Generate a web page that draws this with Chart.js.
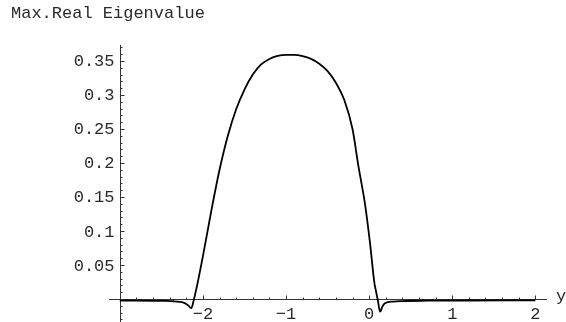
<!DOCTYPE html>
<html>
<head>
<meta charset="utf-8">
<script src="https://cdn.jsdelivr.net/npm/chart.js@4.4.0/dist/chart.umd.min.js"></script>
<style>
    body { margin: 0; background: #fff; }
    #wrap { position: relative; width: 566px; height: 322px; }
    #title {
        position: absolute; left: 11px; top: 4px;
        font: 17px "Liberation Mono", monospace; color: #2a2a2a; white-space: pre;
    }
</style>
</head>
<body>
<div id="wrap">
    <canvas id="chart1" width="566" height="322"></canvas>
    <div id="title">Max.Real Eigenvalue</div>
</div>
<script>
// data
var yValues = [-3, -2.8, -2.6, -2.45, -2.35, -2.28, -2.22, -2.18, -2.14, -2.11, -2.07, -2.0, -1.9, -1.8, -1.7, -1.6, -1.5, -1.4, -1.3, -1.2, -1.1, -1.0, -0.9, -0.8, -0.7, -0.6, -0.5, -0.4, -0.3, -0.2, -0.13, -0.05, 0.01, 0.064, 0.08, 0.104, 0.132, 0.16, 0.19, 0.29, 0.4, 0.7, 1.2, 2];
var maxRealEig = [-0.0025, -0.0025, -0.0026, -0.0028, -0.0033, -0.0042, -0.006, -0.009, -0.0135, -0.0015, 0.02, 0.063, 0.129, 0.19, 0.24, 0.279, 0.308, 0.33, 0.345, 0.353, 0.3575, 0.359, 0.359, 0.357, 0.353, 0.346, 0.335, 0.318, 0.293, 0.25, 0.196, 0.14, 0.083, 0.023, 0.013, -0.0015, -0.0186, -0.011, -0.0063, -0.0037, -0.003, -0.0025, -0.0022, -0.002];

var xTicks = [-2, -1, 0, 1, 2];
var xTickLabels = ['\u22122', '\u22121', '0', '1', '2'];
var yTicks = [0.05, 0.1, 0.15, 0.2, 0.25, 0.3, 0.35];
var yTickLabels = ['0.05', '0.1', '0.15', '0.2', '0.25', '0.3', '0.35'];
var xAxisLabel = 'y';
var yAxisAt = -3;

// mathematica style axes crossing inside the plot
var mmaAxes = {
    id: 'mmaAxes',
    beforeDatasetsDraw: function(chart) {
        var ctx = chart.ctx, xs = chart.scales.x, ys = chart.scales.y, a = chart.chartArea;
        var ox = Math.round(xs.getPixelForValue(yAxisAt)) + 0.5;
        var oy = Math.round(ys.getPixelForValue(0)) + 0.5;
        ctx.save();
        ctx.strokeStyle = '#333';
        ctx.lineWidth = 1;
        ctx.beginPath();
        ctx.moveTo(a.left, oy); ctx.lineTo(a.right, oy);
        ctx.moveTo(ox, a.top); ctx.lineTo(ox, a.bottom);

        // minor ticks
        for (var i = -15; i <= 10; i++) {
            var px = Math.round(xs.getPixelForValue(i * 0.2)) + 0.5;
            ctx.moveTo(px, oy); ctx.lineTo(px, oy - 2);
        }
        for (var j = -3; j <= 37; j++) {
            var py = Math.round(ys.getPixelForValue(j * 0.01)) + 0.5;
            ctx.moveTo(ox, py); ctx.lineTo(ox + 2, py);
        }
        // major ticks
        xTicks.forEach(function(v) {
            var px = Math.round(xs.getPixelForValue(v)) + 0.5;
            ctx.moveTo(px, oy); ctx.lineTo(px, oy - 4);
        });
        yTicks.forEach(function(v) {
            var py = Math.round(ys.getPixelForValue(v)) + 0.5;
            ctx.moveTo(ox, py); ctx.lineTo(ox + 4, py);
        });
        ctx.stroke();

        ctx.fillStyle = '#2a2a2a';
        ctx.font = '17px "Liberation Mono", monospace';
        ctx.textAlign = 'center';
        ctx.textBaseline = 'middle';
        xTicks.forEach(function(v, k) {
            ctx.fillText(xTickLabels[k], xs.getPixelForValue(v), oy + 15);
        });
        ctx.textAlign = 'right';
        yTicks.forEach(function(v, k) {
            ctx.fillText(yTickLabels[k], ox - 6, ys.getPixelForValue(v) + 1);
        });
        ctx.textAlign = 'left';
        ctx.fillText(xAxisLabel, a.right + 9, oy - 3);
        ctx.restore();
    }
};

var ctx = document.getElementById('chart1').getContext('2d');
var myChart = new Chart(ctx, {
    type: 'scatter',
    data: {
        datasets: [{
            label: 'Max.Real Eigenvalue',
            data: yValues.map(function(v, i) { return { x: v, y: maxRealEig[i] }; }),
            showLine: true,
            borderColor: '#000',
            borderWidth: 1.8,
            pointRadius: 0,
            cubicInterpolationMode: 'monotone'
        }]
    },
    options: {
        responsive: false,
        animation: false,
        layout: {
            padding: { left: 109, right: 19, top: 45, bottom: 0 }
        },
        plugins: {
            legend: { display: false },
            tooltip: { enabled: false }
        },
        scales: {
            x: { type: 'linear', min: -3.13, max: 2.14, display: false },
            y: { type: 'linear', min: -0.0338, max: 0.3735, display: false }
        }
    },
    plugins: [mmaAxes]
});
</script>
</body>
</html>
